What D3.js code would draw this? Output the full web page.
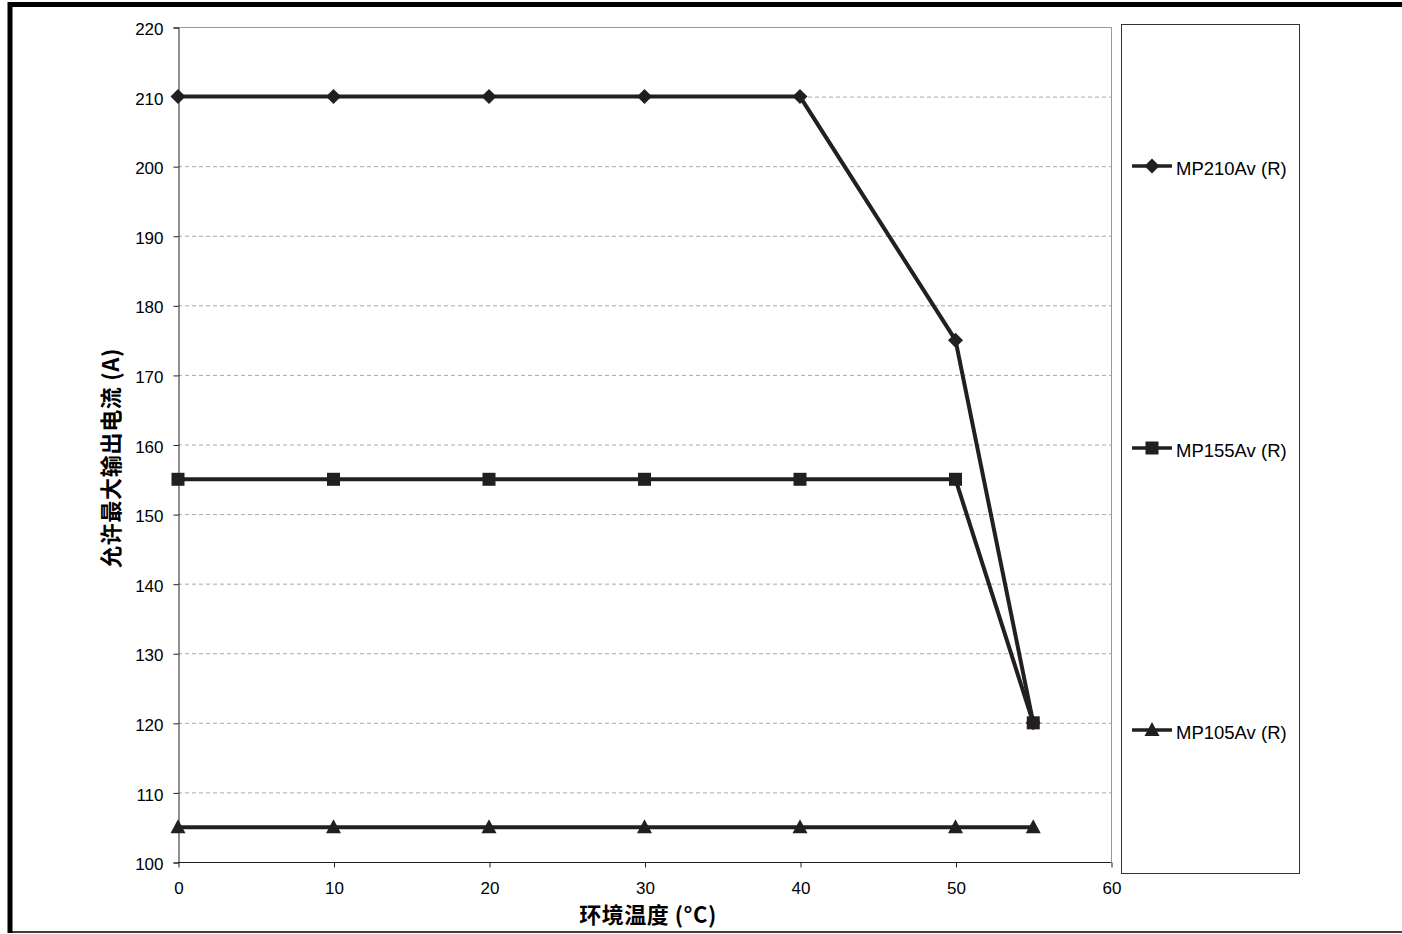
<!DOCTYPE html>
<html><head><meta charset="utf-8">
<script src="https://cdn.jsdelivr.net/npm/d3@7"></script>
<style>
html,body{margin:0;padding:0;background:#fff;}
svg{display:block;}
</style></head>
<body>
<script>
const temps = [0, 10, 20, 30, 40, 50, 55];
const mp210 = [210, 210, 210, 210, 210, 175, 120];
const mp155 = [155, 155, 155, 155, 155, 155, 120];
const mp105 = [105, 105, 105, 105, 105, 105, 105];
const seriesNames = ["MP210Av (R)", "MP155Av (R)", "MP105Av (R)"];
const seriesMarkers = ["diamond", "square", "triangle"];
const yTicks = [100,110,120,130,140,150,160,170,180,190,200,210,220];
const xTicks = [0,10,20,30,40,50,60];
const xTitle = "环境温度 (°C)";
const yTitle = "允许最大输出电流 (A)";

const W = 1402, H = 934;
const ink = "#231f20";
const svg = d3.select("body").append("svg").attr("width", W).attr("height", H);

// outer frame
svg.append("rect").attr("x",10).attr("y",4.5).attr("width",1400).attr("height",927.5)
  .attr("fill","none").attr("stroke","#000").attr("stroke-width",1.5);
svg.append("line").attr("x1",8).attr("x2",1402).attr("y1",4.5).attr("y2",4.5).attr("stroke","#000").attr("stroke-width",5);
svg.append("line").attr("x1",10).attr("x2",10).attr("y1",2).attr("y2",933).attr("stroke","#000").attr("stroke-width",5);

const L = 178, R = 1111, T = 27, B = 862;
const x = d3.scaleLinear().domain([0,60]).range([L,R]);
const y = d3.scaleLinear().domain([100,220]).range([B,T]);

// gridlines
svg.append("g").selectAll("line").data(yTicks.filter(d=>d>100 && d<220)).join("line")
  .attr("x1",L).attr("x2",R).attr("y1",d=>y(d)+0.5).attr("y2",d=>y(d)+0.5)
  .attr("stroke","#a8a8b4").attr("stroke-width",1).attr("stroke-dasharray","4,3");
// plot border top/right
svg.append("line").attr("x1",L).attr("x2",R).attr("y1",T+0.5).attr("y2",T+0.5).attr("stroke","#999").attr("stroke-width",1);
svg.append("line").attr("x1",R+0.5).attr("x2",R+0.5).attr("y1",T).attr("y2",B).attr("stroke","#999").attr("stroke-width",1);

const numFont = "'Liberation Sans', Arial, sans-serif";
// axes
const yAxis = d3.axisLeft(y).tickValues(yTicks).tickSize(5).tickPadding(10);
const gy = svg.append("g").attr("transform",`translate(${L+0.5},0.5)`).call(yAxis);
const xAxis = d3.axisBottom(x).tickValues(xTicks).tickSize(5).tickPadding(14);
const gx = svg.append("g").attr("transform",`translate(0.5,${B+0.5})`).call(xAxis);
[gy,gx].forEach(g=>{
  g.selectAll("path").attr("stroke",ink).attr("stroke-width",1);
  g.selectAll("line").attr("stroke",ink);
  g.selectAll("text").attr("font-family",numFont).attr("font-size",17).attr("fill","#000");
});
gy.selectAll("text").attr("dy","0.42em");
gx.select(".domain").attr("d",`M${L},0H${R}`);

// titles
svg.append("text").attr("x",648).attr("y",923).attr("text-anchor","middle")
  .attr("font-family","'Noto Sans CJK SC','Liberation Sans',sans-serif").attr("font-weight","bold")
  .attr("font-size",22).attr("letter-spacing",0.5).text(xTitle);
svg.append("text").attr("transform",`translate(119,458) rotate(-90)`).attr("text-anchor","middle")
  .attr("font-family","'Noto Sans CJK SC','Liberation Sans',sans-serif").attr("font-weight","bold")
  .attr("font-size",22).attr("letter-spacing",0.7).text(yTitle);

const allSeries = [mp210, mp155, mp105];
const line = d3.line().x((d,i)=>x(temps[i])).y(d=>y(d));

function marker(sel, type){
  if(type==="diamond") sel.append("path").attr("d","M0,-7.5L7.5,0L0,7.5L-7.5,0Z");
  else if(type==="square") sel.append("rect").attr("x",-6.5).attr("y",-6.5).attr("width",13).attr("height",13);
  else sel.append("path").attr("d","M0,-8L7.5,6L-7.5,6Z");
}

allSeries.forEach((vals,si)=>{
  svg.append("path").datum(vals).attr("d",line).attr("fill","none")
    .attr("stroke",ink).attr("stroke-width",4).attr("stroke-linejoin","miter");
  vals.forEach((v,i)=>{
    const g = svg.append("g").attr("transform",`translate(${x(temps[i])},${y(v)})`).attr("fill",ink);
    marker(g, seriesMarkers[si]);
  });
});

// legend
svg.append("rect").attr("x",1121.5).attr("y",24.5).attr("width",178).attr("height",849)
  .attr("fill","none").attr("stroke","#333").attr("stroke-width",1);
const legY = [166, 448, 730];
seriesNames.forEach((n,i)=>{
  svg.append("line").attr("x1",1132).attr("x2",1172).attr("y1",legY[i]).attr("y2",legY[i]).attr("stroke",ink).attr("stroke-width",3.5);
  const g = svg.append("g").attr("transform",`translate(1152,${legY[i]})`).attr("fill",ink);
  marker(g, seriesMarkers[i]);
  svg.append("text").attr("x",1176).attr("y",legY[i]+9).attr("font-family",numFont)
    .attr("font-size",18.5).attr("fill","#000").text(n);
});
</script>
</body></html>
